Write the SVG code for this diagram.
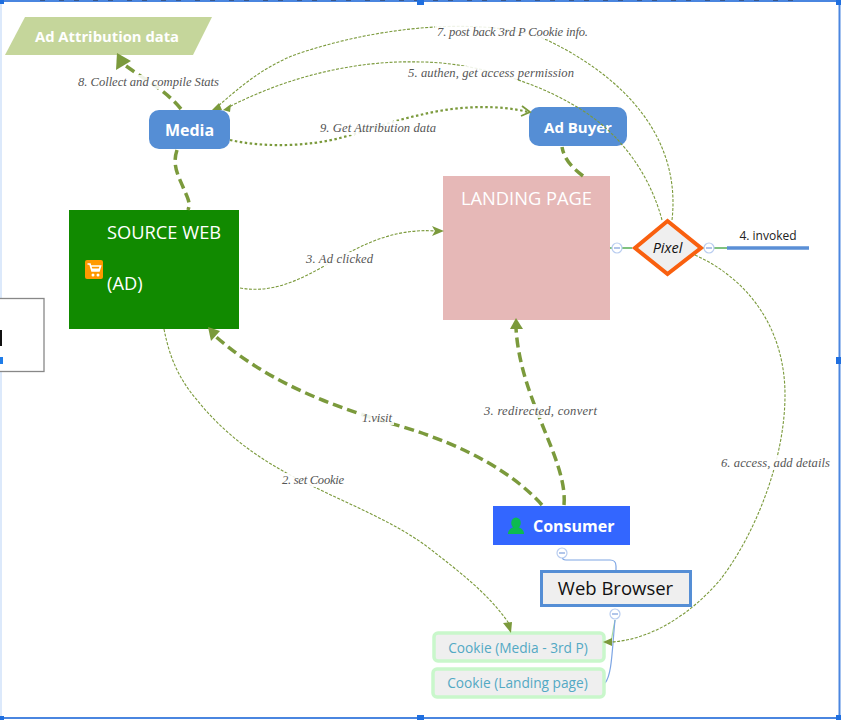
<svg xmlns="http://www.w3.org/2000/svg" width="841" height="720" viewBox="0 0 841 720">
<style>
.lbl{font-family:"Liberation Serif",serif;font-style:italic;font-size:12.6px;fill:#555}
.bg{fill:#fff;fill-opacity:.88}
.ui{font-family:"Open Sans","Noto Sans",sans-serif}
.thin{fill:none;stroke:#7b9a3c;stroke-width:1.1;stroke-dasharray:3 1.5}
.thick{fill:none;stroke:#7b9a3c;stroke-width:3.500;stroke-dasharray:10 5}
.dots{fill:none;stroke:#7b9a3c;stroke-width:2.200;stroke-dasharray:2.500 2.500}
.head{fill:#7b9a3c}
.mm{fill:#fff;stroke:#b9cdf0;stroke-width:1.200}
.mmd{stroke:#7f9fdc;stroke-width:1.200}
.cookie{fill:#efefef;stroke:#c9f7cb;stroke-width:3.500}
.cookiet{font-family:"Open Sans","Noto Sans",sans-serif;font-size:13.7px;fill:#53a9c4}
.h{fill:#1f6fe0}
</style>
<rect width="841" height="720" fill="#fff"/>
<g id="frame">
<path d="M1 0V720" fill="none" stroke="#dce9fb" stroke-width="2"/>
<path d="M839.500 0V720M0 1H841M0 718H841" fill="none" stroke="#4a86e0" stroke-width="2"/>
<path d="M40 0.500H800" fill="none" stroke="#37588f" stroke-width="1.200" stroke-dasharray="5 14 5 10"/>
<rect class="h" x="0" y="0" width="4" height="4"/><rect class="h" x="417" y="0" width="7" height="5"/><rect class="h" x="836" y="0" width="5" height="5"/>
<rect class="h" x="836" y="357" width="5" height="7"/><rect class="h" x="0" y="716" width="4" height="4"/><rect class="h" x="417" y="715" width="7" height="5"/><rect class="h" x="836" y="715" width="5" height="5"/>
</g>
<g id="offcut"><rect x="-5" y="298.500" width="49" height="73" fill="#fff" stroke="#888" stroke-width="1.300"/><rect x="-1" y="330" width="3" height="16" fill="#111"/><rect x="0" y="357" width="3" height="7" fill="#1f7ce8"/></g>
<g id="lines">
<path d="M610 248H632" stroke="#2a9a2a" stroke-width="1.200"/><path d="M703 248H728" stroke="#2a9a2a" stroke-width="1.200"/>
<path d="M727 248H809" stroke="#5a8fd6" stroke-width="3.500"/>
<path d="M562 553V556Q562 560 566 560H610Q616 560 616 566V570" fill="none" stroke="#7ea6e4" stroke-width="1.200"/>
<path d="M615 620L611 642" fill="none" stroke="#a9dca0" stroke-width="1.200"/>
<path d="M615 620C612 650 612 675 605 683" fill="none" stroke="#7ea6e4" stroke-width="1.200"/>
</g>
<g id="ad-attribution"><path d="M25 17H212L193 55H5Z" fill="#c5d69b"/><text x="107" y="42" text-anchor="middle" class="ui" font-size="14.800" font-weight="700" fill="#fff">Ad Attribution data</text></g>
<g id="media"><rect x="149" y="110" width="81" height="39" rx="10" fill="#558ed5"/><text x="189.500" y="136" text-anchor="middle" class="ui" font-size="16" font-weight="700" fill="#fff">Media</text></g>
<g id="ad-buyer"><rect x="529" y="107" width="98" height="39" rx="10" fill="#558ed5"/><text x="578" y="133" text-anchor="middle" class="ui" font-size="15" font-weight="700" fill="#fff">Ad Buyer</text></g>
<g id="source-web"><rect x="69" y="210" width="170" height="119" fill="#118a00"/><text x="107" y="239" class="ui" font-size="18.300" fill="#fff">SOURCE WEB</text><text x="107" y="290" class="ui" font-size="18.300" fill="#fff">(AD)</text>
<rect x="85" y="260" width="18" height="19" rx="2" fill="#f90"/><path d="M87.500 264H90L92 271H99L100.500 266H91" fill="none" stroke="#fff" stroke-width="1.700"/><path d="M91 268.500H99.500L98.800 271H92Z" fill="#fff"/><circle cx="93" cy="275" r="1.500" fill="#fff"/><circle cx="98" cy="275" r="1.500" fill="#fff"/></g>
<g id="landing-page"><rect x="443" y="176" width="167" height="144" fill="#e6b8b7"/><text x="526.500" y="205" text-anchor="middle" class="ui" font-size="18.300" fill="#fff">LANDING PAGE</text></g>
<g id="pixel"><path d="M667.500 221L701 248L667.500 274L635 248Z" fill="#efefef" stroke="#f9600f" stroke-width="4"/><text x="667.500" y="253" text-anchor="middle" class="ui" font-size="14.500" font-style="italic" fill="#111">Pixel</text></g>
<g id="invoked"><text x="768" y="240" text-anchor="middle" class="ui" font-size="12" fill="#222">4. invoked</text></g>
<g id="consumer"><rect x="493" y="506" width="137" height="39" fill="#3366ff"/><ellipse cx="516" cy="523" rx="4.800" ry="5.500" fill="#0dbb4f"/><path d="M508 534C508 530 511 528 514 527H518C521 528 524 530 524 534Z" fill="#0dbb4f"/><text x="533" y="532" class="ui" font-size="16" font-weight="700" fill="#fff">Consumer</text></g>
<g id="web-browser"><rect x="541.500" y="571.500" width="149" height="34" fill="#efefef" stroke="#558ed5" stroke-width="3"/><text x="615.500" y="595" text-anchor="middle" class="ui" font-size="18.500" fill="#111">Web Browser</text></g>
<g id="cookie-media"><rect x="434" y="633" width="170" height="28" rx="4" class="cookie"/><text x="518" y="653" text-anchor="middle" class="cookiet">Cookie (Media - 3rd P)</text></g>
<g id="cookie-landing"><rect x="433" y="669" width="171" height="28" rx="4" class="cookie"/><text x="517.500" y="688" text-anchor="middle" class="cookiet">Cookie (Landing page)</text></g>
<g id="connectors">
<path class="thick" d="M181 109C165 90 150 83 126 66"/>
<path class="head" d="M117 53L131 61L116 70Z"/>
<path class="thick" d="M177 150C172 165 178 175 183 187C187 197 191 202 188 210"/>
<path class="thick" d="M583 176C570 166 564 158 562 147"/>
<path class="thick" d="M542 505C515 475 470 447 400 426C340 409 270 385 214 335"/>
<path class="head" d="M208 327L220 331L211 341Z"/>
<path class="thick" d="M564 505C568 460 520 400 516 328"/>
<path class="head" d="M516 318L523 329L510 329Z"/>
<path class="dots" d="M230 140C265 148 310 146 340 138C370 130 395 120 420 115C460 105 500 105 528 112"/>
<path d="M522 106L530 112L521 116" fill="none" stroke="#7b9a3c" stroke-width="1.800"/>
<path class="thin" d="M240 288C310 300 350 225 436 231"/>
<path class="head" d="M444 231L432 226L435 231L432 236Z"/>
<path class="thin" d="M164 329C170 360 180 380 197 400C225 435 260 460 300 480C350 505 390 520 425 545C460 572 490 595 510 625"/>
<path class="head" d="M511 633L503 623L512 622Z"/>
<path class="thin" d="M662 220C650 175 620 130 570 103C530 80 470 62 420 62C360 60 290 75 227 108"/>
<path class="head" d="M223 110L231 104L230 112Z"/>
<path class="thin" d="M672 220C680 150 640 85 547 40C500 20 400 20 300 53C265 65 240 87 217 107"/>
<path class="head" d="M212 110L219 103L222 110Z"/>
<path class="thin" d="M695 255C750 280 785 330 785 395C785 460 755 535 720 580C690 615 650 640 611 642"/>
<path class="head" d="M603 642L612 638L612 646Z"/>
</g>
<g id="labels">
<rect class="bg" x="76" y="75" width="145" height="14"/><text class="lbl" x="78" y="86" textLength="141">8. Collect and compile Stats</text>
<rect class="bg" x="435" y="25" width="155" height="14"/><text class="lbl" x="437" y="36" textLength="151">7. post back 3rd P Cookie info.</text>
<rect class="bg" x="406" y="66" width="170" height="14"/><text class="lbl" x="408" y="77" textLength="166">5. authen, get access permission</text>
<rect class="bg" x="318" y="121" width="120" height="14"/><text class="lbl" x="320" y="132" textLength="116">9. Get Attribution data</text>
<rect class="bg" x="304" y="252" width="71" height="14"/><text class="lbl" x="306" y="263" textLength="67">3. Ad clicked</text>
<rect class="bg" x="482" y="404" width="117" height="14"/><text class="lbl" x="484" y="415" textLength="113">3. redirected, convert</text>
<rect class="bg" x="360" y="411" width="34" height="14"/><text class="lbl" x="362" y="422" textLength="30">1.visit</text>
<rect class="bg" x="280" y="473" width="66" height="14"/><text class="lbl" x="282" y="484" textLength="62">2. set Cookie</text>
<rect class="bg" x="719" y="456" width="113" height="14"/><text class="lbl" x="721" y="467" textLength="109">6. access, add details</text>
</g>
<g id="collapse">
<circle class="mm" cx="617" cy="248" r="5"/><path class="mmd" d="M614 248H620"/>
<circle class="mm" cx="709" cy="248" r="5"/><path class="mmd" d="M706 248H712"/>
<circle class="mm" cx="562" cy="553" r="5"/><path class="mmd" d="M559 553H565"/>
<circle class="mm" cx="615" cy="614" r="5"/><path class="mmd" d="M612 614H618"/>
</g>
</svg>
